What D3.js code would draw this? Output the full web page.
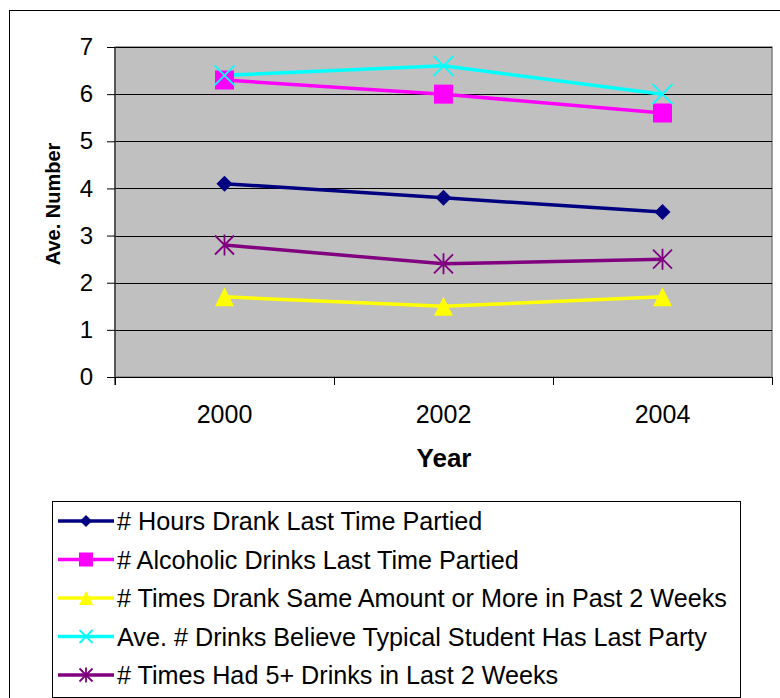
<!DOCTYPE html>
<html><head><meta charset="utf-8">
<script src="https://cdn.jsdelivr.net/npm/d3@7"></script>
<style>body{margin:0;background:#fff}svg{display:block}text{font-family:Arial,"Liberation Sans",sans-serif}</style>
</head><body>
<svg id="c" width="780" height="698"></svg>
<script>
const years = ["2000","2002","2004"];
const yTicks = [0,1,2,3,4,5,6,7];
const seriesNames = [
  "# Hours Drank Last Time Partied",
  "# Alcoholic Drinks Last Time Partied",
  "# Times Drank Same Amount or More in Past 2 Weeks",
  "Ave. # Drinks Believe Typical Student Has Last Party",
  "# Times Had 5+ Drinks in Last 2 Weeks"
];
const hoursDrank = [4.1, 3.8, 3.5];
const alcoholicDrinks = [6.3, 6.0, 5.6];
const timesSameAmount = [1.7, 1.5, 1.7];
const typicalStudent = [6.4, 6.6, 6.0];
const times5Plus = [2.8, 2.4, 2.5];
const seriesValues = [hoursDrank, alcoholicDrinks, timesSameAmount, typicalStudent, times5Plus];
const colors = ["#000080","#ff00ff","#ffff00","#00ffff","#800080"];
const markers = ["diamond","square","triangle","x","star"];

const svg = d3.select("#c");
svg.append("rect").attr("x",9.5).attr("y",10.5).attr("width",780).attr("height",700)
  .attr("fill","#fff").attr("stroke","#000").attr("stroke-width",1);

const L=115, R=772, T=47, B=377;
const x = d3.scaleBand().domain(years).range([L,R]);
const y = d3.scaleLinear().domain([0,7]).range([B,T]);

svg.append("rect").attr("x",L).attr("y",T).attr("width",R-L).attr("height",B-T)
  .attr("fill","#c0c0c0").attr("stroke","#808080").attr("stroke-width",1.5);

svg.append("g").selectAll("line").data(yTicks.filter(d=>d>0)).join("line")
  .attr("x1",L).attr("x2",R).attr("y1",d=>Math.round(y(d))+0.5).attr("y2",d=>Math.round(y(d))+0.5)
  .attr("stroke","#000").attr("stroke-width",1);

const ya = svg.append("g").attr("transform",`translate(${L},0)`)
  .call(d3.axisLeft(y).tickValues(yTicks).tickSize(8).tickPadding(14).tickFormat(d3.format("d")));
ya.attr("font-size",null).attr("font-family",null);
ya.select(".domain").attr("stroke","#404040").attr("stroke-width",1.5).attr("d",`M0,${T}V${B+8}`);
ya.selectAll(".tick line").attr("stroke","#000");
ya.selectAll(".tick text").attr("font-size",24).attr("fill","#000");

const xa = svg.append("g").attr("transform",`translate(0,${B})`)
  .call(d3.axisBottom(x).tickSize(0).tickPadding(28));
xa.attr("font-size",null).attr("font-family",null);
xa.select(".domain").attr("stroke","#000").attr("stroke-width",1);
xa.selectAll(".tick text").attr("font-size",25).attr("fill","#000");
const bounds = [L, ...years.slice(1).map(d=>x(d)), R];
svg.append("g").selectAll("line").data(bounds).join("line")
  .attr("x1",d=>Math.round(d)+0.5).attr("x2",d=>Math.round(d)+0.5).attr("y1",B).attr("y2",B+8)
  .attr("stroke","#000");

svg.append("text").attr("x",444).attr("y",467).attr("text-anchor","middle")
  .attr("font-size",26).attr("font-weight","bold").text("Year");
svg.append("text").attr("transform",`translate(60,204) rotate(-90)`).attr("text-anchor","middle")
  .attr("font-size",20).attr("font-weight","bold").text("Ave. Number");

function drawMarker(g, type, color, s){
  if(type==="diamond"){
    g.append("path").attr("d",`M0,${-s}L${s},0L0,${s}L${-s},0Z`).attr("fill",color);
  } else if(type==="square"){
    g.append("rect").attr("x",-s).attr("y",-s).attr("width",2*s).attr("height",2*s).attr("fill",color);
  } else if(type==="triangle"){
    g.append("path").attr("d",`M0,${-s}L${s},${s}L${-s},${s}Z`).attr("fill",color);
  } else if(type==="x"){
    g.append("path").attr("d",`M${-s},${-s}L${s},${s}M${-s},${s}L${s},${-s}`).attr("stroke",color).attr("stroke-width",1.8);
  } else if(type==="star"){
    g.append("path").attr("d",`M${-s},${-s}L${s},${s}M${-s},${s}L${s},${-s}M0,${-s-1}V${s+1}`).attr("stroke",color).attr("stroke-width",1.8);
  }
}
const msize = [8,9.5,9.5,10,9.5];

const line = d3.line().x((d,i)=>x(years[i])+x.bandwidth()/2).y(d=>y(d));
seriesValues.forEach((vals,si)=>{
  svg.append("path").datum(vals).attr("d",line).attr("fill","none")
    .attr("stroke",colors[si]).attr("stroke-width",3.5);
});
seriesValues.forEach((vals,si)=>{
  vals.forEach((v,i)=>{
    const g = svg.append("g").attr("transform",`translate(${x(years[i])+x.bandwidth()/2},${y(v)})`);
    drawMarker(g, markers[si], colors[si], msize[si]);
  });
});

const lg = svg.append("g");
lg.append("rect").attr("x",52.5).attr("y",501.5).attr("width",688).attr("height",196)
  .attr("fill","#fff").attr("stroke","#000").attr("stroke-width",1);
seriesNames.forEach((name,si)=>{
  const cy = 521 + si*38.5;
  lg.append("line").attr("x1",58).attr("x2",114).attr("y1",cy).attr("y2",cy)
    .attr("stroke",colors[si]).attr("stroke-width",3.5);
  const g = lg.append("g").attr("transform",`translate(86,${cy})`);
  drawMarker(g, markers[si], colors[si], [6,7,7,6.5,6.5][si]);
  lg.append("text").attr("x",117).attr("y",cy+9).attr("font-size",25.2).attr("fill","#000").text(name);
});
</script>
</body></html>
